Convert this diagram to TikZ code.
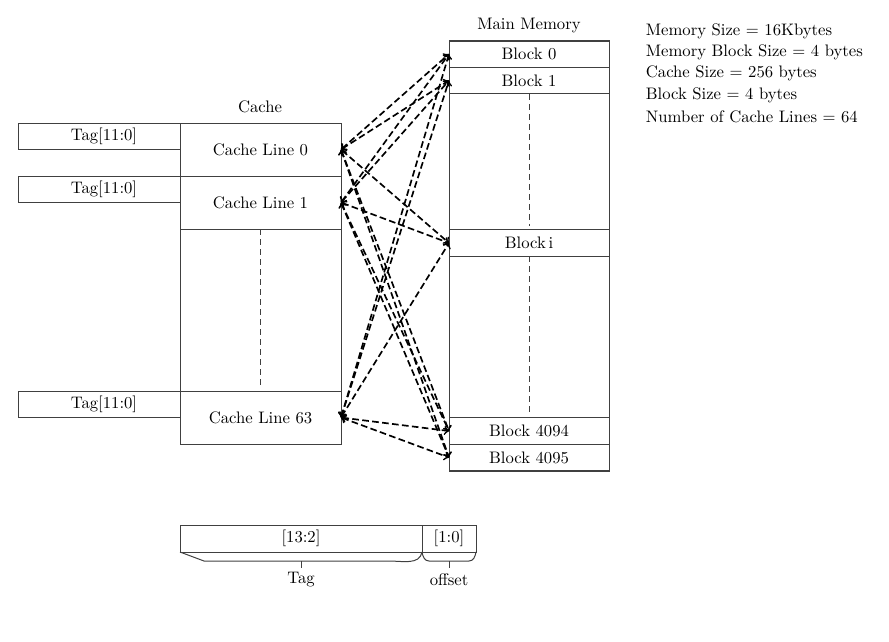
\documentclass[tikz,border=0pt]{standalone}
\usepackage{xcolor}
\usetikzlibrary{positioning,arrows}

\tikzset{
	box/.style={draw=black!75, line width=0.6pt, inner sep=0pt, outer sep=0pt},
	cline/.style={box, minimum width=96.6pt, minimum height=31.8pt},
	tagbox/.style={box, minimum width=97.2pt, minimum height=15.6pt},
	blk/.style={box, minimum width=96pt, minimum height=15.9pt},
	link/.style={to-to, line width=1pt, dash pattern=on 4pt off 2pt},
	gapline/.style={black!75, line width=0.5pt, dash pattern=on 3.6pt off 2.4pt}
}

\begin{document}
\begin{tikzpicture}[x=0.6pt,y=-0.6pt]
	\useasboundingbox (0,0) rectangle (889,641);
	
	% cache
	\node (cachetitle) at (260,107) {Cache};
	\node[tagbox] (tag0) at (99,136) {\hspace{6pt}Tag[11:0]};
	\node[tagbox] (tag1) at (99,189) {\hspace{6pt}Tag[11:0]};
	\node[tagbox] (tag63) at (99,404) {\hspace{6pt}Tag[11:0]};
	\node[cline] (line0) at (260.5,149.5) {Cache Line 0};
	\node[cline] (line1) at (260.5,202.5) {Cache Line 1};
	\node[cline] (line63) at (260.5,417.5) {Cache Line 63};
	\draw[black!75,line width=0.6pt] (line1.south west) -- (line63.north west);
	\draw[black!75,line width=0.6pt] (line1.south east) -- (line63.north east);
	\draw[gapline] (line1.south) -- ([yshift=3pt]line63.north);
	
	% main memory
	\node (memtitle) at (529,26) {Main Memory};
	\draw[black!75,line width=0.6pt] (449,41) rectangle (609,471);
	\node[blk] (blk0) at (529,54) {Block 0};
	\node[blk] (blk1) at (529,80.5) {Block 1};
	\node[blk] (blki) at (529,243) {Block\,i};
	\node[blk] (blk4094) at (529,431) {Block 4094};
	\node[blk] (blk4095) at (529,457.5) {Block 4095};
	\draw[gapline] (blk1.south) -- ([yshift=2pt]blki.north);
	\draw[gapline] (blki.south) -- ([yshift=2pt]blk4094.north);
	
	% mapping
	\draw[link] (line0.east) -- (blk0.west);
	\draw[link] (line0.east) -- (blk1.west);
	\draw[link] (line0.east) -- (blki.west);
	\draw[link] (line0.east) -- (blk4094.west);
	\draw[link] (line0.east) -- (blk4095.west);
	\draw[link] (line1.east) -- (blk0.west);
	\draw[link] (line1.east) -- (blk1.west);
	\draw[link] (line1.east) -- (blki.west);
	\draw[link] (line1.east) -- (blk4094.west);
	\draw[link] (line1.east) -- (blk4095.west);
	\draw[link] (line63.east) -- (blk0.west);
	\draw[link] (line63.east) -- (blk1.west);
	\draw[link] (line63.east) -- (blki.west);
	\draw[link] (line63.east) -- (blk4094.west);
	\draw[link] (line63.east) -- (blk4095.west);
	
	% parameters
	\node[anchor=west] (info1) at (640,31) {Memory Size = 16Kbytes};
	\node[anchor=west] (info2) at (640,52) {Memory Block Size = 4 bytes};
	\node[anchor=west] (info3) at (640,73) {Cache Size = 256 bytes};
	\node[anchor=west] (info4) at (640,95) {Block Size = 4 bytes};
	\node[anchor=west] (info5) at (640,117) {Number of Cache Lines = 64};
	
	% address format
	\node[box,minimum width=145.2pt,minimum height=16.2pt] (tagfield) at (301,538.5) {[13:2]};
	\node[box,minimum width=32.4pt,minimum height=16.2pt] (offfield) at (449,538.5) {[1:0]};
	\draw[black!75,line width=0.6pt] (tagfield.south west) -- ++(24,9) -- ++(185,0)
		to[out=0,in=-100] (tagfield.south east);
	\draw[black!75,line width=0.6pt] (offfield.south west) to[out=-80,in=180] ++(7,9) -- ++(40,0)
		to[out=0,in=-100] (offfield.south east);
	\coordinate (tagtip) at (301,561);
	\coordinate (offtip) at (449,561);
	\node (taglabel) at (301,580) {Tag};
	\node (offlabel) at (449,580) {offset};
	\draw[black!75,line width=0.6pt] (tagtip) -- ++(0,7);
	\draw[black!75,line width=0.6pt] (offtip) -- ++(0,7);
\end{tikzpicture}
\end{document}
